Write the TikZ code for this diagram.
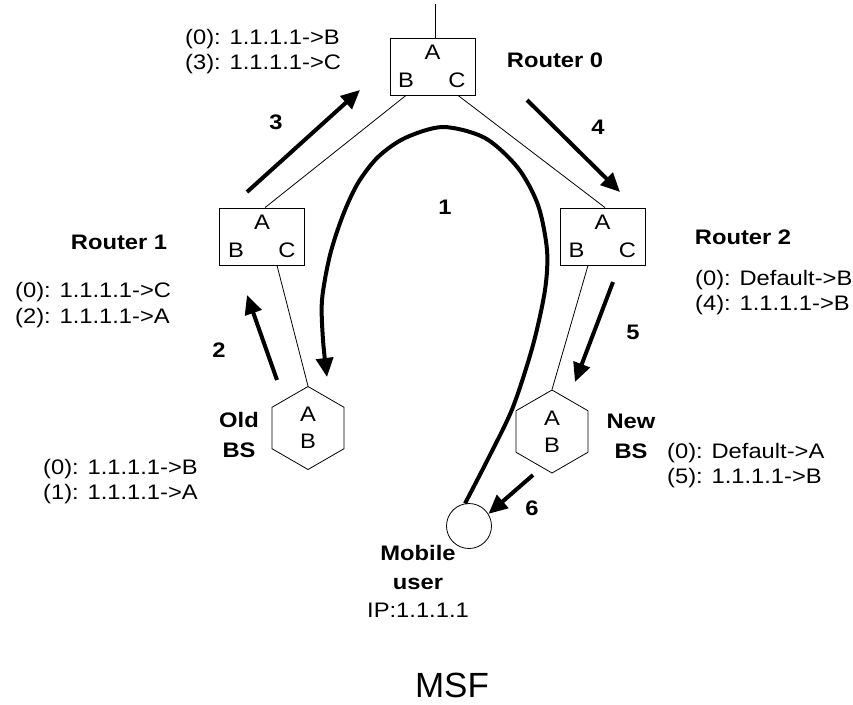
\documentclass[tikz,border=0pt]{standalone}
\usepackage{fontspec}
\setmainfont{Liberation Sans}[FakeStretch=1.13]
\newfontfamily\titlefont{Liberation Sans}
\usetikzlibrary{arrows.meta,shapes.geometric}

\begin{document}
\begin{tikzpicture}[x=1pt, y=-1pt,
  every node/.style={font=\fontsize{21}{25.5}\selectfont, inner sep=0pt},
  router/.style={draw, line width=0.8pt, minimum width=85pt, minimum height=57pt},
  bs/.style={draw, line width=0.8pt, regular polygon, regular polygon sides=6,
    shape border rotate=30, minimum size=83pt, align=center,
    font=\fontsize{21}{27}\selectfont},
  user/.style={draw, circle, line width=0.8pt, minimum size=45pt},
  tbl/.style={anchor=west, align=left},
  lbl/.style={align=center, font=\fontsize{21}{29.5}\selectfont\bfseries},
  num/.style={font=\fontsize{21}{25}\selectfont\bfseries},
  link/.style={line width=0.8pt},
  flow/.style={line width=4pt, -{Triangle[length=19pt,width=17pt]}}]

  \useasboundingbox (0,0) rectangle (853,704);

  % ==================== routers ====================
  \node[router] (r0) at (432.5,66.5) {};
  \node (r0A) at ([yshift=14.5pt]r0.center) {A};
  \node (r0B) at ([xshift=-26.5pt,yshift=-13.5pt]r0.center) {B};
  \node (r0C) at ([xshift=24.5pt,yshift=-13.5pt]r0.center) {C};

  \node[router] (r1) at (262,236.5) {};
  \node (r1A) at ([yshift=14.5pt]r1.center) {A};
  \node (r1B) at ([xshift=-26pt,yshift=-13.5pt]r1.center) {B};
  \node (r1C) at ([xshift=25pt,yshift=-13.5pt]r1.center) {C};

  \node[router] (r2) at (602.5,236.5) {};
  \node (r2A) at ([yshift=14.5pt]r2.center) {A};
  \node (r2B) at ([xshift=-26pt,yshift=-13.5pt]r2.center) {B};
  \node (r2C) at ([xshift=25pt,yshift=-13.5pt]r2.center) {C};

  % ==================== base stations, user ====================
  \node[bs] (obs) at (308,428) {A\\B};
  \node[bs] (nbs) at (552,431.5) {A\\B};
  \node[user] (mu) at (469,526) {};

  % ==================== links ====================
  \coordinate (up) at ([xshift=2.5pt,yshift=34pt]r0.north);
  \draw[link] ([xshift=2.5pt]r0.north) -- (up);
  \draw[link] ([xshift=-26.5pt]r0.south) -- ([xshift=3pt]r1.north);
  \draw[link] ([xshift=25.5pt]r0.south) -- ([xshift=2.5pt]r2.north);
  \draw[link] ([xshift=15pt]r1.south) -- (obs.north);
  \draw[link] ([xshift=-14.5pt]r2.south) -- (nbs.north);

  % ==================== message flow ====================
  \draw[flow] plot[smooth] coordinates {(mu.100) (490,455) (513,407) (533,345)
    (545,290) (547,250) (538,205) (518,168) (485,138) (443,127) (405,138)
    (378,157) (358,183) (343,215) (330,255) (322,300) (323,340) (327,377)};

  \coordinate (f2s) at (277,380); \coordinate (f2e) at (247,295);
  \coordinate (f3s) at (247,192); \coordinate (f3e) at (360,90);
  \coordinate (f4s) at (527,100); \coordinate (f4e) at (620,192);
  \coordinate (f5s) at (613,282); \coordinate (f5e) at (575,382);
  \coordinate (f6s) at (533,475);
  \draw[flow] (f2s) -- (f2e);
  \draw[flow] (f3s) -- (f3e);
  \draw[flow] (f4s) -- (f4e);
  \draw[flow] (f5s) -- (f5e);
  \draw[flow] (f6s) -- (mu.32);

  \node[num] (n1) at (445,207) {1};
  \node[num] (n2) at (219,350) {2};
  \node[num] (n3) at (276,122) {3};
  \node[num] (n4) at (598,127) {4};
  \node[num] (n5) at (633,332) {5};
  \node[num] (n6) at (532,508) {6};

  % ==================== labels, tables ====================
  \node[lbl] (r0name) at (555,60) {Router 0};
  \node[lbl] (r1name) at (119,242) {Router 1};
  \node[lbl] (r2name) at (743,237) {Router 2};
  \node[lbl] (obsname) at (239,435) {Old\\BS};
  \node[lbl] (nbsname) at (631,436.5) {New\\BS};
  \node[align=center, font=\fontsize{21}{28.5}\selectfont] (muname) at (418,581.5)
    {\textbf{Mobile}\\\textbf{user}\\IP:1.1.1.1};

  \node[tbl] (t0) at (185,51.5) {(0): 1.1.1.1->B\\(3): 1.1.1.1->C};
  \node[tbl] (t1) at (15,305) {(0): 1.1.1.1->C\\(2): 1.1.1.1->A};
  \node[tbl] (t2) at (695,292.5) {(0): Default->B\\(4): 1.1.1.1->B};
  \node[tbl] (t3) at (43,481.5) {(0): 1.1.1.1->B\\(1): 1.1.1.1->A};
  \node[tbl] (t4) at (667,465.5) {(0): Default->A\\(5): 1.1.1.1->B};

  \node[font=\titlefont\fontsize{35}{40}\selectfont] (title) at (452,685) {MSF};
\end{tikzpicture}
\end{document}
